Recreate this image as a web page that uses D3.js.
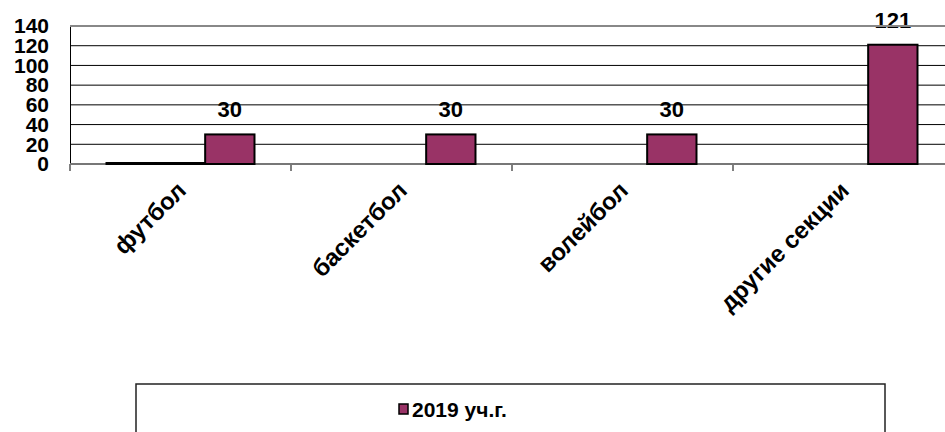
<!DOCTYPE html>
<html>
<head>
<meta charset="utf-8">
<script src="https://cdn.jsdelivr.net/npm/d3@7"></script>
<style>
  html, body { margin: 0; padding: 0; background: #fff; }
  svg { display: block; font-family: "Liberation Sans", Arial, sans-serif; font-weight: bold; }
</style>
</head>
<body>
<svg id="chart" width="945" height="432"></svg>
<script>
// chart data
const categories = ["футбол", "баскетбол", "волейбол", "другие секции"];
const seriesNames = ["2017 уч.г.", "2018 уч.г.", "2019 уч.г."];
const values2017 = [1, null, null, null];
const values2018 = [1, null, null, null];
const values2019 = [30, 30, 30, 121];
const yTicks = [0, 20, 40, 60, 80, 100, 120, 140];
const legendNames = ["2019 уч.г."];

const seriesValues = [values2017, values2018, values2019];
const barColor = "#993366";

const svg = d3.select("#chart");
const width = 945, height = 432;
const margin = { top: 26, left: 70, bottom: 164 };

// plot runs past the right edge of the picture
const x = d3.scaleBand().domain(categories).range([margin.left, 954]);
const xs = d3.scaleBand().domain(seriesNames).range([0, x.bandwidth()]).paddingOuter(0.74);
const y = d3.scaleLinear().domain([0, 140]).range([margin.bottom, margin.top]);

// gridlines
svg.append("g")
  .selectAll("line")
  .data(yTicks.filter(d => d > 0 && d < 140))
  .join("line")
  .attr("x1", margin.left).attr("x2", width)
  .attr("y1", d => y(d)).attr("y2", d => y(d))
  .attr("stroke", "#000").attr("stroke-width", 1);

// y axis
const yAxis = d3.axisLeft(y).tickValues(yTicks).tickSize(0).tickPadding(21);
const gy = svg.append("g").attr("transform", `translate(${margin.left},0)`).call(yAxis);
gy.select(".domain").attr("stroke", "#000").attr("stroke-width", 1);
gy.selectAll("text").attr("font-size", 21).attr("font-weight", "bold").attr("fill", "#000")
  .attr("font-family", "Liberation Sans, Arial, sans-serif");

// category tick marks at band edges
const edges = categories.map(c => x(c));
svg.append("g").selectAll("line").data(edges).join("line")
  .attr("x1", d => d).attr("x2", d => d)
  .attr("y1", y(0)).attr("y2", y(0) + 7)
  .attr("stroke", "#000").attr("stroke-width", 1);

// top border and zero line
svg.append("line").attr("x1", margin.left).attr("x2", width)
  .attr("y1", y(0)).attr("y2", y(0)).attr("stroke", "#777").attr("stroke-width", 2);

// bars
const rows = [];
seriesValues.forEach((vals, si) => {
  vals.forEach((v, ci) => {
    if (v !== null) rows.push({ s: seriesNames[si], c: categories[ci], v });
  });
});
svg.append("g").selectAll("rect").data(rows).join("rect")
  .attr("x", d => x(d.c) + xs(d.s))
  .attr("y", d => y(d.v))
  .attr("width", xs.bandwidth())
  .attr("height", d => y(0) - y(d.v))
  .attr("fill", barColor)
  .attr("stroke", "#000").attr("stroke-width", 2);

// value labels for the 2019 series
svg.append("g").selectAll("text").data(values2019.map((v, i) => ({ c: categories[i], v })))
  .join("text")
  .attr("x", d => x(d.c) + xs("2019 уч.г.") + xs.bandwidth() / 2)
  .attr("y", d => y(d.v) - 17)
  .attr("text-anchor", "middle")
  .attr("font-size", 22)
  .text(d => d.v);

svg.append("line").attr("x1", margin.left).attr("x2", width)
  .attr("y1", y(140)).attr("y2", y(140)).attr("stroke", "#888").attr("stroke-width", 2);

// category labels
svg.append("g").selectAll("text").data(categories).join("text")
  .attr("transform", d => `translate(${x(d) + x.bandwidth() / 2 + 7},${y(0) + 28}) rotate(-45)`)
  .attr("text-anchor", "end")
  .attr("font-size", 24)
  .text(d => d);

// legend
const lg = svg.append("g");
lg.append("rect").attr("x", 136).attr("y", 384).attr("width", 749).attr("height", 70)
  .attr("fill", "#fff").attr("stroke", "#222").attr("stroke-width", 1.5);
legendNames.forEach((name, i) => {
  lg.append("rect").attr("x", 399).attr("y", 404).attr("width", 9).attr("height", 10)
    .attr("fill", barColor).attr("stroke", "#000").attr("stroke-width", 1.5);
  lg.append("text").attr("x", 412).attr("y", 417).attr("font-size", 21).text(name);
});
</script>
</body>
</html>
